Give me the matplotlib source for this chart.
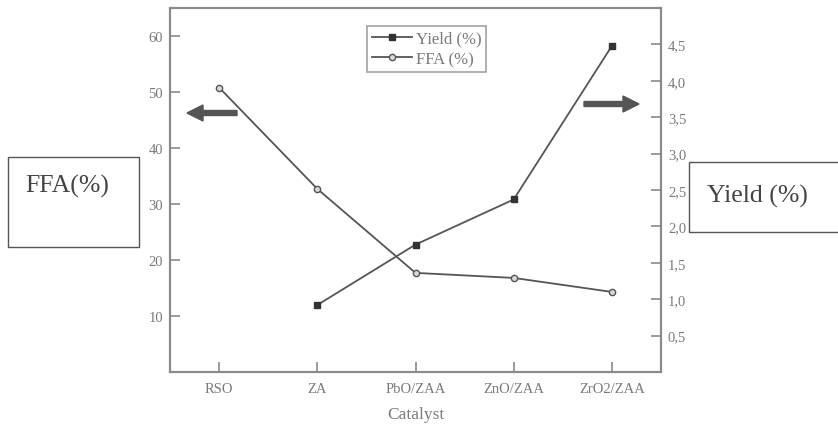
import matplotlib
matplotlib.use("Agg")
import matplotlib.pyplot as plt
from matplotlib.patches import Rectangle, FancyArrow
from matplotlib.ticker import FuncFormatter

# data
catalysts = ["RSO", "ZA", "PbO/ZAA", "ZnO/ZAA", "ZrO2/ZAA"]
ffa = [50.8, 32.7, 17.7, 16.8, 14.3]
yield_cats = ["ZA", "PbO/ZAA", "ZnO/ZAA", "ZrO2/ZAA"]
yield_pct = [0.92, 1.75, 2.37, 4.48]
left_ticks = [10, 20, 30, 40, 50, 60]
right_ticks = [0.5, 1.0, 1.5, 2.0, 2.5, 3.0, 3.5, 4.0, 4.5]

plt.rcParams['font.family'] = ['Liberation Serif', 'DejaVu Serif']

W, H = 838, 427
fig = plt.figure(figsize=(W / 100, H / 100), dpi=100)
ax = fig.add_axes([170 / W, 1 - 373 / H, 491 / W, 364 / H])
ax2 = ax.twinx()

spine_c = "#8a8a8a"
line_c = "#555555"
txt_c = "#7a7a7a"

x_all = list(range(len(catalysts)))
x_y = [catalysts.index(c) for c in yield_cats]

l2, = ax.plot(x_all, ffa, color=line_c, lw=1.3, marker="o", ms=4.5,
              mfc="#d8d8d8", mec=line_c, mew=1.0, label="FFA (%)")
l1, = ax2.plot(x_y, yield_pct, color=line_c, lw=1.3, marker="s", ms=4.5,
               mfc="#333333", mec="#333333", label="Yield (%)")

ax.set_xlim(-0.5, 4.5)
ax.set_ylim(0, 65)
ax2.set_ylim(0, 5)
ax.set_xticks(x_all)
ax.set_xticklabels(catalysts)
ax.set_yticks(left_ticks)
ax2.set_yticks(right_ticks)
ax2.yaxis.set_major_formatter(FuncFormatter(lambda v, p: f"{v:.1f}".replace(".", ",")))

for a in (ax, ax2):
    for s in a.spines.values():
        s.set_color(spine_c)
        s.set_linewidth(1.5)
    a.tick_params(direction="in", length=7, width=1.2, color=spine_c,
                  labelcolor=txt_c, labelsize=10.5, pad=5)
ax.tick_params(axis="x", pad=7)

ax.set_xlabel("Catalyst", color=txt_c, fontsize=12.5, labelpad=8)

leg = ax.legend([l1, l2], ["Yield (%)", "FFA (%)"], loc="upper center",
                bbox_to_anchor=(0.523, 0.951), fontsize=12, frameon=True,
                fancybox=False, handlelength=2.4, handletextpad=0.2,
                borderpad=0.3, labelspacing=0.25, labelcolor=txt_c,
                borderaxespad=0)
leg.get_frame().set_edgecolor(spine_c)
leg.get_frame().set_linewidth(1.2)

# arrows pointing to the axes
fig.patches.append(FancyArrow(237 / W, 1 - 114 / H, -50 / W, 0, width=5 / H,
                              head_width=16 / H, head_length=16 / W,
                              length_includes_head=True, color="#555555",
                              transform=fig.transFigure))
fig.patches.append(FancyArrow(584 / W, 1 - 105 / H, 55 / W, 0, width=5 / H,
                              head_width=16 / H, head_length=16 / W,
                              length_includes_head=True, color="#555555",
                              transform=fig.transFigure))

# label boxes
fig.patches.append(Rectangle((8 / W, 1 - 248 / H), 131 / W, 90 / H,
                             fill=False, ec="#555555", lw=1.0,
                             transform=fig.transFigure))
fig.text(25 / W, 1 - 186 / H, "FFA(%)", fontsize=18.5, color="#444444",
         va="center", ha="left")
fig.patches.append(Rectangle((689 / W, 1 - 233 / H), 160 / W, 70 / H,
                             fill=False, ec="#555555", lw=1.0,
                             transform=fig.transFigure, clip_on=False))
fig.text(707 / W, 1 - 196 / H, "Yield (%)", fontsize=18.5, color="#444444",
         va="center", ha="left")

fig.savefig("out.png", dpi=100)
